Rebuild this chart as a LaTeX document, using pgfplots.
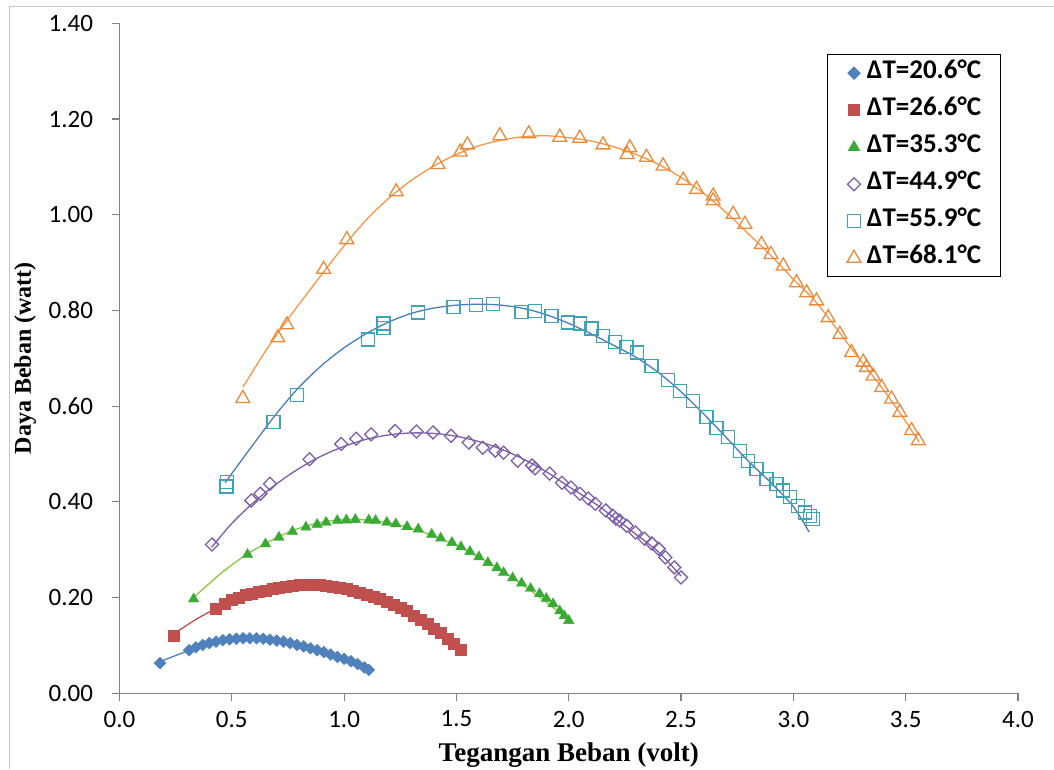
\documentclass[border=0pt]{standalone}
\usepackage{fontspec}
\setmainfont{Liberation Serif}
\newfontfamily\carlito{Carlito}
\usepackage{pgfplots}
\pgfplotsset{compat=1.18}
\definecolor{cBlue}{HTML}{4F81BD}
\definecolor{cRed}{HTML}{C0504D}
\definecolor{cGreen}{HTML}{3AAA35}
\definecolor{cGreenL}{HTML}{8DC63F}
\definecolor{cPurple}{HTML}{7B5EA7}
\definecolor{cCyan}{HTML}{3FA3B8}
\definecolor{cCyanL}{HTML}{4A7EBB}
\definecolor{cOrange}{HTML}{E98A3A}
\definecolor{cOrangeL}{HTML}{F79646}
\begin{document}
\begin{tikzpicture}
\useasboundingbox (0,0) rectangle (1054pt,769pt);
\draw[black!22, line width=1pt] (9pt,0pt) -- (9pt,762pt) -- (1054pt,762pt);
\begin{axis}[
 at={(119.5pt,75.7pt)}, anchor=south west,
 scale only axis, width=898.5pt, height=670pt,
 xmin=0, xmax=4, ymin=0, ymax=1.4,
 axis x line*=bottom, axis y line*=left,
 axis line style={black!50, line width=1.2pt},
 xtick={0,0.5,1,1.5,2,2.5,3,3.5,4},
 ytick={0,0.2,0.4,0.6,0.8,1.0,1.2,1.4},
 tick align=outside, major tick length=8pt,
 tick style={black!50, line width=1.2pt},
 scaled ticks=false,
 ticklabel style={font=\carlito\fontsize{25}{28}\selectfont},
 /pgf/number format/assume math mode=true,
 xticklabel style={yshift=-6pt, /pgf/number format/fixed, /pgf/number format/fixed zerofill, /pgf/number format/precision=1},
 yticklabel style={xshift=-15pt, /pgf/number format/fixed, /pgf/number format/fixed zerofill, /pgf/number format/precision=2},
 xlabel={Tegangan Beban (volt)},
 xlabel style={font=\bfseries\fontsize{27}{30}\selectfont, at={(axis description cs:0.5,0)}, anchor=base, yshift=-68.5pt},
 ylabel={Daya Beban (watt)},
 ylabel style={font=\bfseries\fontsize{24}{28}\selectfont, at={(axis description cs:-0.105,0.5)}, anchor=center},
 legend style={at={(0.7874,0.954)}, anchor=north west, draw=black, line width=1.2pt,
   font=\carlito\bfseries\fontsize{27}{30}\selectfont,
   nodes={inner sep=0pt, text height=17pt, text depth=6pt},
   row sep=14pt, inner ysep=7pt, inner xsep=19.5pt, column sep=6pt},
 legend cell align=left,
]
% trend lines
\addplot[cBlue, line width=1.3pt, smooth, forget plot] coordinates {
(0.18,0.066) (0.30,0.088) (0.40,0.104) (0.50,0.112) (0.60,0.115) (0.70,0.111) (0.80,0.101) (0.90,0.087) (1.00,0.071) (1.11,0.049)};
\addplot[cRed, line width=1.3pt, smooth, forget plot] coordinates {
(0.24,0.124) (0.35,0.157) (0.45,0.182) (0.55,0.202) (0.65,0.216) (0.75,0.224) (0.85,0.227) (0.95,0.224) (1.05,0.214) (1.15,0.198) (1.25,0.178) (1.35,0.151) (1.45,0.118) (1.52,0.091)};
\addplot[cGreenL, line width=1.3pt, smooth, forget plot] coordinates {
(0.33,0.200) (0.45,0.250) (0.55,0.285) (0.65,0.313) (0.75,0.336) (0.85,0.352) (0.95,0.361) (1.05,0.363) (1.15,0.360) (1.25,0.351) (1.35,0.337) (1.45,0.319) (1.55,0.297) (1.65,0.271) (1.75,0.241) (1.85,0.208) (1.95,0.172) (2.00,0.152)};
\addplot[cPurple, line width=1.3pt, smooth, forget plot] coordinates {
(0.41,0.305) (0.50,0.355) (0.60,0.400) (0.70,0.438) (0.80,0.470) (0.90,0.496) (1.00,0.516) (1.10,0.531) (1.20,0.540) (1.30,0.544) (1.40,0.543) (1.50,0.537) (1.60,0.526) (1.70,0.510) (1.80,0.489) (1.90,0.463) (2.00,0.432) (2.10,0.402) (2.20,0.368) (2.30,0.332) (2.40,0.295) (2.50,0.245)};
\addplot[cCyanL, line width=1.3pt, smooth, forget plot] coordinates {
(0.47,0.440) (0.60,0.523) (0.70,0.585) (0.80,0.640) (0.90,0.685) (1.00,0.722) (1.10,0.752) (1.20,0.776) (1.30,0.794) (1.40,0.805) (1.50,0.811) (1.60,0.813) (1.70,0.811) (1.80,0.804) (1.90,0.791) (2.00,0.773) (2.10,0.751) (2.20,0.727) (2.30,0.702) (2.40,0.670) (2.50,0.630) (2.60,0.584) (2.70,0.535) (2.80,0.485) (2.90,0.440) (3.00,0.390) (3.07,0.337)};
\addplot[cOrangeL, line width=1.3pt, smooth, forget plot] coordinates {
(0.55,0.640) (0.65,0.715) (0.75,0.782) (0.90,0.875) (1.00,0.935) (1.10,0.990) (1.20,1.035) (1.30,1.072) (1.40,1.102) (1.50,1.126) (1.60,1.144) (1.70,1.156) (1.80,1.163) (1.90,1.165) (2.00,1.161) (2.10,1.154) (2.20,1.142) (2.30,1.126) (2.40,1.105) (2.50,1.078) (2.60,1.045) (2.70,1.005) (2.80,0.960) (2.90,0.915) (3.00,0.865) (3.10,0.818) (3.20,0.757) (3.30,0.695) (3.40,0.635) (3.50,0.568) (3.56,0.525)};
% data
\addplot[only marks, mark=square*, mark size=4.2pt, mark options={rotate=45, fill=cBlue, draw=cBlue}] coordinates {
(0.18,0.063) (0.31,0.090) (0.34,0.096) (0.37,0.101) (0.40,0.105) (0.43,0.108) (0.46,0.111) (0.49,0.113) (0.52,0.114) (0.55,0.115) (0.58,0.115) (0.61,0.115) (0.64,0.114) (0.67,0.112) (0.70,0.110) (0.73,0.108) (0.76,0.105) (0.79,0.101) (0.82,0.098) (0.85,0.094) (0.88,0.090) (0.91,0.086) (0.94,0.081) (0.97,0.076) (1.00,0.072) (1.03,0.067) (1.06,0.061) (1.09,0.054) (1.11,0.049)};
\addlegendentry{ΔT=20.6°C}
\addplot[only marks, mark=square*, mark size=5.5pt, mark options={fill=cRed, draw=cRed}] coordinates {
(0.24,0.121) (0.43,0.177) (0.47,0.188) (0.50,0.195) (0.53,0.200) (0.56,0.205) (0.59,0.209) (0.62,0.212) (0.65,0.215) (0.68,0.218) (0.71,0.221) (0.74,0.223) (0.77,0.225) (0.80,0.226) (0.83,0.227) (0.86,0.227) (0.89,0.226) (0.92,0.225) (0.95,0.223) (0.98,0.221) (1.01,0.218) (1.04,0.215) (1.07,0.211) (1.10,0.207) (1.13,0.202) (1.16,0.197) (1.19,0.191) (1.22,0.185) (1.25,0.179) (1.28,0.172) (1.31,0.163) (1.34,0.154) (1.37,0.145) (1.40,0.136) (1.43,0.126) (1.46,0.115) (1.49,0.103) (1.52,0.092)};
\addlegendentry{ΔT=26.6°C}
\addplot[only marks, mark=triangle*, mark size=6pt, mark options={fill=cGreen, draw=cGreen}] coordinates {
(0.33,0.197) (0.57,0.290) (0.65,0.312) (0.71,0.326) (0.77,0.338) (0.83,0.347) (0.88,0.353) (0.92,0.357) (0.97,0.361) (1.01,0.362) (1.05,0.363) (1.11,0.362) (1.14,0.361) (1.19,0.357) (1.23,0.354) (1.28,0.348) (1.33,0.343) (1.39,0.332) (1.43,0.324) (1.48,0.315) (1.52,0.306) (1.56,0.296) (1.60,0.285) (1.64,0.273) (1.68,0.262) (1.71,0.252) (1.75,0.241) (1.79,0.230) (1.83,0.219) (1.87,0.208) (1.90,0.198) (1.93,0.187) (1.96,0.172) (1.98,0.162) (2.00,0.152)};
\addlegendentry{ΔT=35.3°C}
\addplot[only marks, mark=square, mark size=4.6pt, mark options={rotate=45, draw=cPurple, line width=1.3pt}] coordinates {
(0.412,0.311) (0.587,0.403) (0.627,0.417) (0.670,0.438) (0.846,0.489) (0.987,0.521) (1.054,0.532) (1.120,0.541) (1.227,0.548) (1.322,0.547) (1.396,0.545) (1.476,0.538) (1.555,0.524) (1.617,0.513) (1.673,0.507) (1.710,0.503) (1.773,0.486) (1.837,0.476) (1.850,0.470) (1.915,0.459) (1.970,0.440) (2.010,0.430) (2.050,0.417) (2.087,0.407) (2.118,0.396) (2.165,0.382) (2.196,0.371) (2.210,0.365) (2.227,0.361) (2.258,0.350) (2.297,0.336) (2.337,0.323) (2.370,0.313) (2.400,0.302) (2.430,0.284) (2.470,0.263) (2.500,0.242)};
\addlegendentry{ΔT=44.9°C}
\addplot[only marks, mark=square, mark size=6.5pt, mark options={draw=cCyan, line width=1.3pt}] coordinates {
(0.477,0.432) (0.478,0.442) (0.685,0.567) (0.791,0.624) (1.106,0.739) (1.175,0.763) (1.175,0.773) (1.330,0.796) (1.487,0.807) (1.587,0.812) (1.664,0.814) (1.789,0.797) (1.849,0.799) (1.923,0.789) (1.997,0.775) (2.049,0.773) (2.101,0.762) (2.153,0.747) (2.205,0.734) (2.257,0.724) (2.305,0.712) (2.368,0.684) (2.443,0.655) (2.494,0.632) (2.554,0.611) (2.613,0.577) (2.658,0.555) (2.710,0.535) (2.762,0.507) (2.799,0.486) (2.836,0.469) (2.880,0.448) (2.925,0.437) (2.955,0.424) (2.984,0.410) (3.022,0.392) (3.051,0.378) (3.073,0.371) (3.088,0.364)};
\addlegendentry{ΔT=55.9°C}
\addplot[only marks, mark=triangle, mark size=8pt, mark options={draw=cOrange, line width=1.3pt}] coordinates {
(0.549,0.616) (0.705,0.743) (0.745,0.770) (0.909,0.886) (1.012,0.948) (1.232,1.048) (1.418,1.105) (1.517,1.131) (1.549,1.146) (1.693,1.165) (1.822,1.169) (1.960,1.162) (2.049,1.160) (2.153,1.146) (2.260,1.126) (2.272,1.140) (2.346,1.120) (2.420,1.102) (2.510,1.072) (2.569,1.053) (2.643,1.039) (2.643,1.029) (2.732,1.001) (2.784,0.980) (2.858,0.938) (2.900,0.917) (2.955,0.893) (3.014,0.858) (3.059,0.837) (3.103,0.820) (3.155,0.785) (3.207,0.750) (3.259,0.712) (3.311,0.692) (3.326,0.681) (3.355,0.663) (3.393,0.639) (3.437,0.615) (3.474,0.587) (3.526,0.549) (3.556,0.528)};
\addlegendentry{ΔT=68.1°C}
\end{axis}
\end{tikzpicture}
\end{document}
